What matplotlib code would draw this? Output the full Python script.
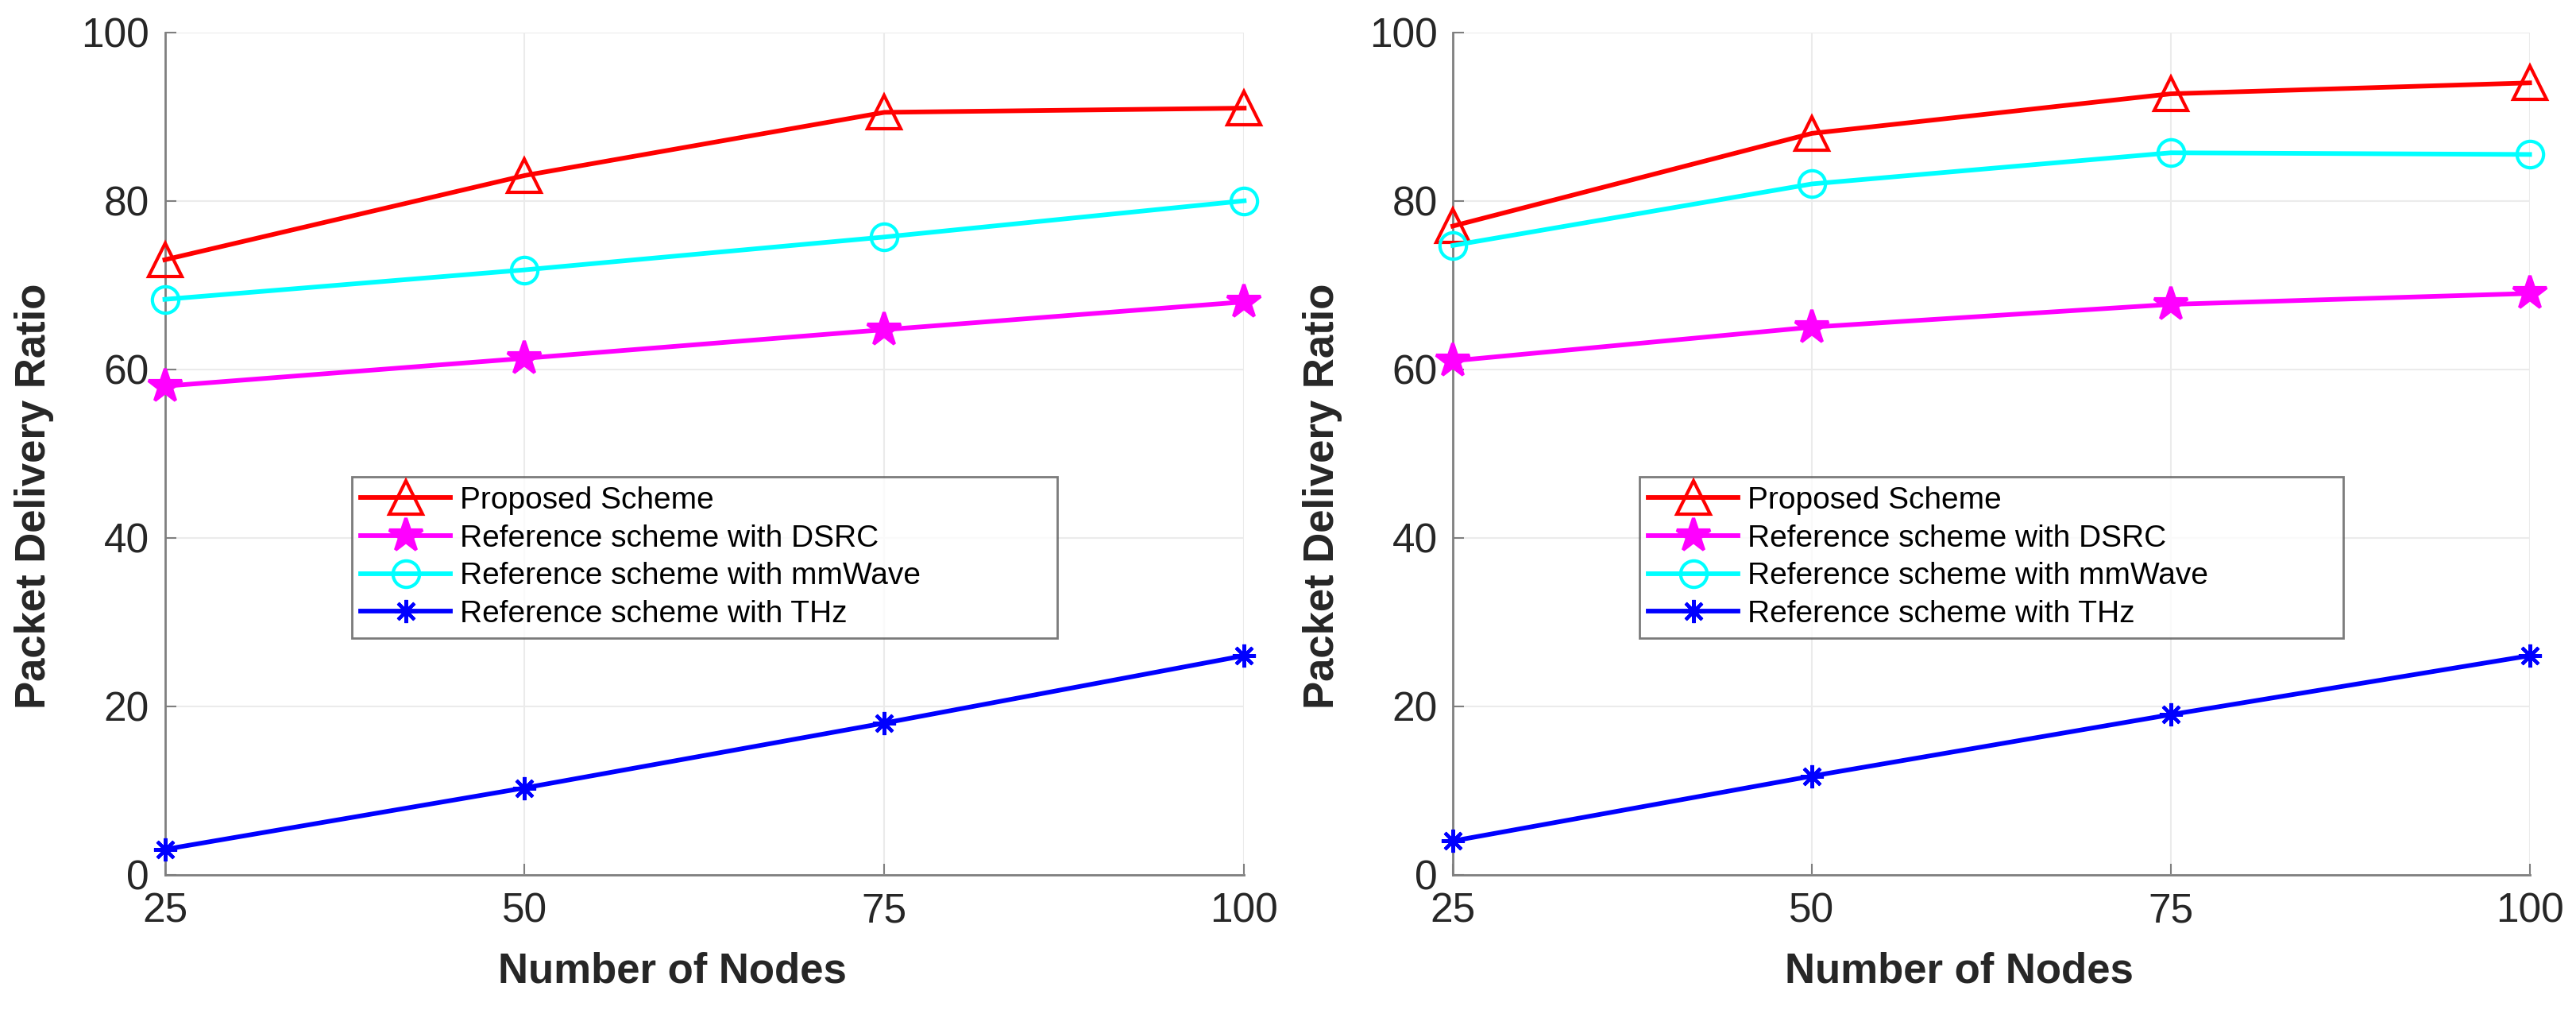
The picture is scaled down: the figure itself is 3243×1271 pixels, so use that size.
import numpy as np
import matplotlib
matplotlib.use("Agg")
import matplotlib.pyplot as plt

plt.rcParams["font.family"] = ["Liberation Sans", "DejaVu Sans"]

# ── data ─────────────────────────────────────────────────────────────────────
nodes = [25, 50, 75, 100]
yticks = [0, 20, 40, 60, 80, 100]
labels = ["Proposed Scheme", "Reference scheme with DSRC",
          "Reference scheme with mmWave", "Reference scheme with THz"]

left_proposed = [73, 83, 90.5, 91]
left_dsrc     = [58, 61.3, 64.7, 68]
left_mmwave   = [68.3, 71.8, 75.7, 80]
left_thz      = [3, 10.3, 18, 26]

right_proposed = [77, 88, 92.7, 94]
right_dsrc     = [61, 65, 67.7, 69]
right_mmwave   = [74.7, 82, 85.7, 85.5]
right_thz      = [4, 11.7, 19, 26]

# colour, marker, marker size, filled
styles = [
    ("#FF0000", "^", 30, False),
    ("#FF00FF", "*", 32, True),
    ("#00FFFF", "o", 24, False),
    ("#0000FF", (8, 2, 0), 21, True),
]

AX_COL = "#7F7F7F"
TXT_COL = "#262626"

fig = plt.figure(figsize=(32.43, 12.71), dpi=100)
ax1 = fig.add_axes([0.064, 0.134, 0.419, 0.834])
ax2 = fig.add_axes([0.564, 0.134, 0.418, 0.834])

panels = [(ax1, [left_proposed, left_dsrc, left_mmwave, left_thz]),
          (ax2, [right_proposed, right_dsrc, right_mmwave, right_thz])]

for ax, series in panels:
    for vals, (col, mk, ms, filled), lab in zip(series, styles, labels):
        ax.plot(nodes, vals, color=col, lw=4.2, marker=mk, ms=ms,
                mfc=col if filled else "none", mec=col, mew=3,
                label=lab, clip_on=False, zorder=3)
    ax.set_xlim(25, 100)
    ax.set_ylim(0, 100)
    ax.set_xticks(nodes)
    ax.set_yticks(yticks)
    ax.tick_params(direction="in", labelsize=37, length=10, width=1.5,
                   color=AX_COL, labelcolor=TXT_COL)
    ax.tick_params(axis="x", pad=16)
    ax.tick_params(axis="y", pad=14)
    ax.grid(True, color="#EBEBEB", lw=1.5)
    ax.set_axisbelow(True)
    for s in ["top", "right"]:
        ax.spines[s].set_visible(False)
    for s in ["left", "bottom"]:
        ax.spines[s].set_color(AX_COL)
        ax.spines[s].set_linewidth(2)

    # MATLAB put both labels slightly off-centre
    ax.set_xlabel("Number of Nodes", fontsize=38, fontweight="bold",
                  color=TXT_COL, va="center")
    ax.set_ylabel("Packet Delivery Ratio", fontsize=38, fontweight="bold",
                  color=TXT_COL, va="center")
    ax.xaxis.set_label_coords(0.47, -0.115)
    ax.yaxis.set_label_coords(-0.121, 0.449)

    leg = ax.legend(loc="upper left", bbox_to_anchor=(0.173, 0.283, 0.654, 0.189),
                    mode="expand", fontsize=28, frameon=True, fancybox=False,
                    edgecolor="#5A5A5A", handlelength=2.9, borderpad=0.3,
                    labelspacing=0.3, handletextpad=0.3, borderaxespad=0)
    leg.get_frame().set_linewidth(2)

fig.savefig("out.png", dpi=100)
